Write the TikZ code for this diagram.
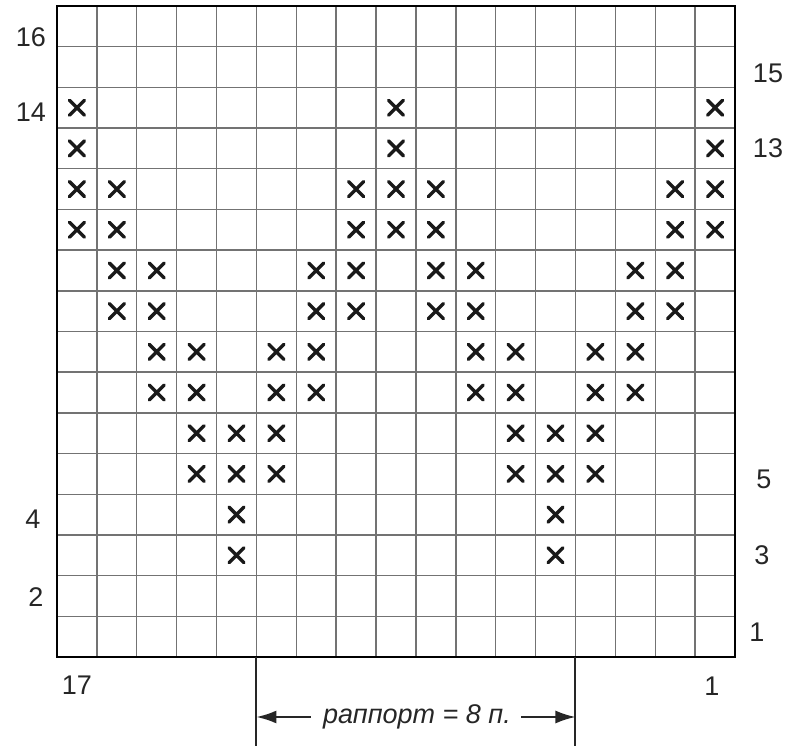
\documentclass[tikz,border=0pt]{standalone}
\usepackage{fontspec}
\setmainfont{Liberation Sans}
\usetikzlibrary{arrows.meta}
\begin{document}
\begin{tikzpicture}[x=1pt,y=-1pt,
  gridline/.style={line width=1.4pt, draw=black!55},
  border/.style={line width=2.4pt, draw=black},
  cross/.style={line width=3.4pt, draw=black!90, line cap=round},
  num/.style={font=\fontsize{27}{30}\selectfont, inner sep=0pt, text=black!85},
  reptext/.style={font=\itshape\fontsize{27}{30}\selectfont, inner sep=0pt, text=black!85},
  repline/.style={line width=2pt, draw=black!85},
  arr/.style={line width=2pt, draw=black!85, -{Latex[length=20pt,width=13pt]}}]
\useasboundingbox (0,0) rectangle (788,746);
\pgfmathsetmacro\cw{(735-57)/17}
\pgfmathsetmacro\rh{(657-6)/16}
% grid
\foreach \i in {1,...,16} \draw[gridline] ({57+\i*\cw},6) -- ({57+\i*\cw},657);
\foreach \j in {1,...,15} \draw[gridline] (57,{6+\j*\rh}) -- (735,{6+\j*\rh});
\draw[border] (57,6) rectangle (735,657);
% crosses: row index from top / columns from left
\foreach \t/\cols in {3/{1,9,17},4/{1,9,17},
  5/{1,2,8,9,10,16,17},6/{1,2,8,9,10,16,17},
  7/{2,3,7,8,10,11,15,16},8/{2,3,7,8,10,11,15,16},
  9/{3,4,6,7,11,12,14,15},10/{3,4,6,7,11,12,14,15},
  11/{4,5,6,12,13,14},12/{4,5,6,12,13,14},
  13/{5,13},14/{5,13}}{
  \foreach \c in \cols {
    \pgfmathsetmacro\cx{57+(\c-0.5)*\cw}
    \pgfmathsetmacro\cy{6+(\t-0.5)*\rh}
    \draw[cross] (\cx-7.5,\cy-7.5) -- (\cx+7.5,\cy+7.5)
                 (\cx-7.5,\cy+7.5) -- (\cx+7.5,\cy-7.5);
  }
}
% row labels
\node[num] (l16) at (31,37) {16};
\node[num] (l14) at (31,112) {14};
\node[num] (l4) at (33,519) {4};
\node[num] (l2) at (36,597) {2};
\node[num] (r15) at (768,73) {15};
\node[num] (r13) at (768,148) {13};
\node[num] (r5) at (764,479) {5};
\node[num] (r3) at (762,555) {3};
\node[num] (r1) at (757,632) {1};
% column labels
\node[num] (c17) at (77,685) {17};
\node[num] (c1) at (712,686) {1};
% repeat
\coordinate (ra) at ({57+5*\cw},657);
\coordinate (rb) at ({57+5*\cw},746);
\coordinate (rc) at ({57+13*\cw},657);
\coordinate (rd) at ({57+13*\cw},746);
\draw[repline] (ra) -- (rb);
\draw[repline] (rc) -- (rd);
\node[reptext] (rep) at (417,717) {раппорт = 8 п.};
\coordinate (al) at ({57+5*\cw},717);
\coordinate (ar) at ({57+13*\cw},717);
\draw[arr] ([xshift=-12pt]rep.west) -- (al);
\draw[arr] ([xshift=10pt]rep.east) -- (ar);
\end{tikzpicture}
\end{document}
